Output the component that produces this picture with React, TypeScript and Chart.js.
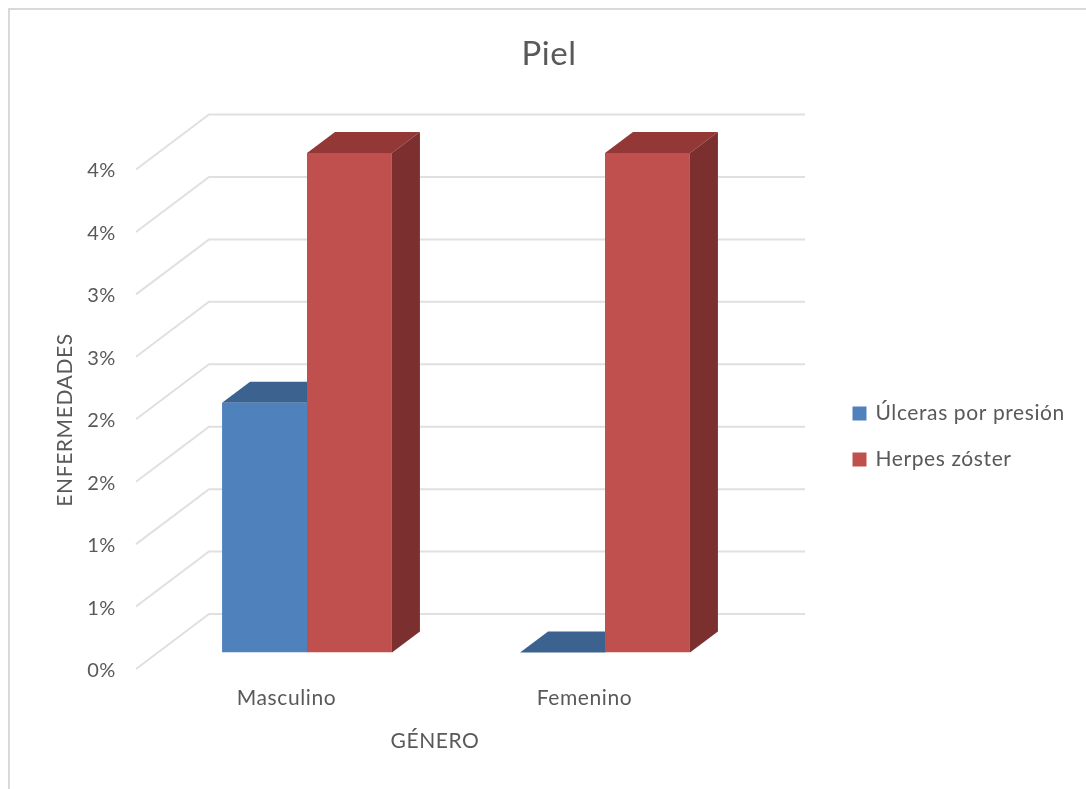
import React, { useEffect, useRef } from "react";
import { Chart, registerables } from "chart.js";

Chart.register(...registerables);

const categories = ["Masculino", "Femenino"];
const ulcerasValues = [2, 0];
const herpesValues = [4, 4];
const seriesNames = ["Úlceras por presión", "Herpes zóster"];
const frontColors = ["#4F81BD", "#C0504D"];
const topColors = ["#3C6390", "#933836"];
const sideColors = ["#2F4E72", "#7B2F2E"];
const chartTitle = "Piel";
const xAxisTitle = "GÉNERO";
const yAxisTitle = "ENFERMEDADES";

const FONT = "Lato, 'Open Sans', sans-serif";
const INK = "#595959";
const GRID = "#E0E0E0";
const FRAME = "#D9D9D9";

// Oblique projection used for the fake 3D box: walls, floor and bar depth.
const BAR_DEPTH = { dx: 28, dy: -21 };
const WALL = { front: { dx: -22, dy: 16.5 }, back: { dx: 51, dy: -38.5 } };

const polygon = (ctx: CanvasRenderingContext2D, pts: number[][], fill: string) => {
  ctx.beginPath();
  pts.forEach(([x, y], i) => (i ? ctx.lineTo(x, y) : ctx.moveTo(x, y)));
  ctx.closePath();
  ctx.fillStyle = fill;
  ctx.fill();
};

const frame3d = {
  id: "frame3d",
  beforeDraw(chart: any) {
    const { ctx, width, height } = chart;
    (ctx as any).letterSpacing = "0.6px";
    ctx.save();
    ctx.strokeStyle = FRAME;
    ctx.lineWidth = 2;
    ctx.beginPath();
    ctx.moveTo(1, height);
    ctx.lineTo(1, 1);
    ctx.lineTo(width, 1);
    ctx.stroke();
    ctx.restore();
  },
  afterLayout(chart: any) {
    // The title spans the whole canvas; the legend sits right of the plot.
    const title = chart.titleBlock;
    title.left = 0;
    title.right = 1082;
    const legend = chart.legend;
    const w = legend.width;
    const h = legend.height;
    legend.left = 821;
    legend.right = 821 + w;
    legend.top = 370;
    legend.bottom = 370 + h;
  },
  beforeDatasetsDraw(chart: any) {
    const { ctx, chartArea, scales } = chart;
    const y = scales.y;
    ctx.save();
    ctx.strokeStyle = GRID;
    ctx.lineWidth = 2;
    y.ticks.forEach((tick: any) => {
      const py = y.getPixelForValue(tick.value);
      ctx.beginPath();
      ctx.moveTo(chartArea.left + WALL.front.dx, py + WALL.front.dy);
      ctx.lineTo(chartArea.left + WALL.back.dx, py + WALL.back.dy);
      ctx.lineTo(chartArea.right + WALL.back.dx, py + WALL.back.dy);
      ctx.stroke();
    });
    chart.data.datasets.forEach((_: any, di: number) => {
      chart.getDatasetMeta(di).data.forEach((bar: any) => {
        const l = bar.x - bar.width / 2;
        const r = bar.x + bar.width / 2;
        const t = bar.y;
        const b = bar.base;
        const { dx, dy } = BAR_DEPTH;
        polygon(ctx, [[l, t], [l + dx, t + dy], [r + dx, t + dy], [r, t]], topColors[di]);
        polygon(ctx, [[r, t], [r + dx, t + dy], [r + dx, b + dy], [r, b]], sideColors[di]);
      });
    });
    ctx.restore();
  },
  afterDraw(chart: any) {
    const { ctx } = chart;
    ctx.save();
    ctx.fillStyle = INK;
    ctx.font = `21px ${FONT}`;
    ctx.textAlign = "center";
    ctx.textBaseline = "middle";
    ctx.fillText(xAxisTitle, 427, 733);
    ctx.translate(57, 412);
    ctx.rotate(-Math.PI / 2);
    ctx.fillText(yAxisTitle, 0, 0);
    ctx.restore();
  },
};

export default function App() {
  const ref = useRef<HTMLCanvasElement>(null);

  useEffect(() => {
    const chart = new Chart(ref.current as HTMLCanvasElement, {
      type: "bar",
      data: {
        labels: categories,
        datasets: [
          { label: seriesNames[0], data: ulcerasValues, backgroundColor: frontColors[0] },
          { label: seriesNames[1], data: herpesValues, backgroundColor: frontColors[1] },
        ],
      },
      plugins: [frame3d],
      options: {
        responsive: false,
        animation: false,
        layout: { padding: { left: 0, right: 332, top: 0, bottom: 0 } },
        datasets: { bar: { categoryPercentage: 0.57, barPercentage: 1 } },
        plugins: {
          tooltip: { enabled: false },
          title: {
            display: true,
            text: chartTitle,
            color: INK,
            font: { family: FONT, size: 33, weight: "normal" },
            padding: { top: 27, bottom: 78.4 },
          },
          legend: {
            position: "chartArea",
            align: "start",
            labels: {
              boxWidth: 11,
              boxHeight: 11,
              padding: 25,
              color: INK,
              font: { family: FONT, size: 21 },
              generateLabels: (c: any) =>
                c.data.datasets.map((d: any, i: number) => ({
                  text: d.label,
                  fillStyle: d.backgroundColor,
                  strokeStyle: d.backgroundColor,
                  lineWidth: 3,
                  fontColor: INK,
                  datasetIndex: i,
                })),
            },
          },
        },
        scales: {
          x: {
            afterFit: (s: any) => {
              s.height = 136.5;
            },
            grid: { display: false, drawTicks: false },
            border: { display: false },
            ticks: {
              color: INK,
              font: { family: FONT, size: 21 },
              padding: 33,
              labelOffset: -20.5,
              maxRotation: 0,
            },
          },
          y: {
            min: 0,
            max: 4,
            afterFit: (s: any) => {
              s.width = 150;
            },
            grid: { display: false, drawTicks: false },
            border: { display: false },
            ticks: {
              stepSize: 0.5,
              autoSkip: false,
              color: INK,
              font: { family: FONT, size: 20 },
              padding: 42,
              labelOffset: 18,
              callback: (v: any) => `${Math.round(Number(v))}%`,
            },
          },
        },
      },
    } as any);
    return () => chart.destroy();
  }, []);

  return (
    <canvas
      ref={ref}
      width={1078}
      height={781}
      style={{ position: "absolute", left: 8, top: 8, width: 1078, height: 781 }}
    />
  );
}
